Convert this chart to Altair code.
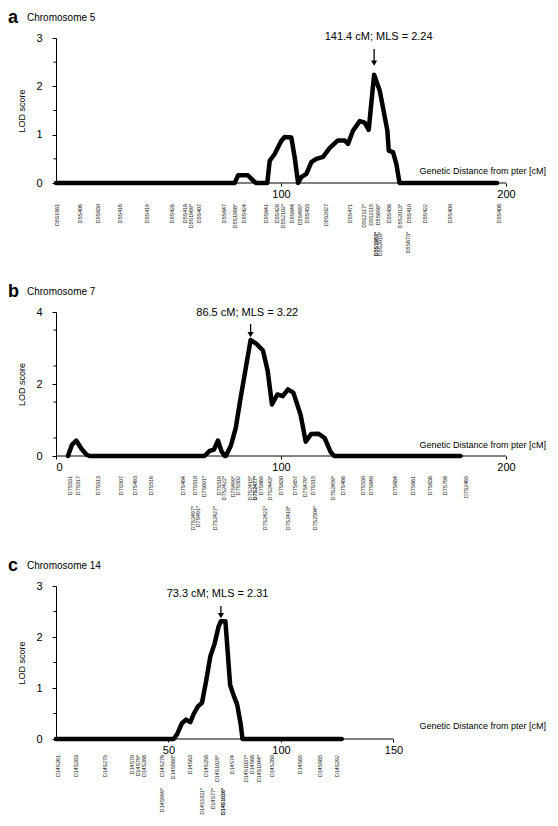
import altair as alt
import pandas as pd

FONT = "Liberation Sans"
W = 490
X_MAX = 217.8

# ---------------- Chromosome 5 ----------------
chr5_cm = [0, 79.4, 81, 85.3, 87.6, 88.9, 93.9, 95, 97.2, 100.1, 101.6, 104.6, 106.1, 107.6,
           109, 111.3, 113.5, 115.7, 118.7, 121.6, 125.3, 128.3, 129.8, 132, 135, 137.2, 139,
           141.4, 143.9, 145.3, 147.3, 147.9, 149.8, 151.3, 152.7, 196]
chr5_lod = [0, 0, 0.16, 0.16, 0.05, 0, 0, 0.46, 0.6, 0.87, 0.95, 0.94, 0.53, 0,
            0.12, 0.19, 0.43, 0.5, 0.54, 0.72, 0.88, 0.88, 0.81, 1.08, 1.28, 1.25, 1.1,
            2.24, 1.91, 1.57, 1.08, 0.67, 0.64, 0.39, 0, 0]
chr5_markers = ["D5S1981", "D5S406", "D5S630", "D5S416", "D5S419", "D5S426", "D5S418", "D5S1969*",
                "D5S407", "D5S647", "D5S1988*", "D5S424", "D5S641", "D5S428", "D5S2102*", "D5S644",
                "D5S495*", "D5S433", "D5S2027", "D5S471", "D5S2117*", "D5S2115", "D5S658*", "D5S436",
                "D5S2013*", "D5S410", "D5S422", "D5S400", "D5S408"]
chr5_marker_cm = [0.4, 10.7, 18.7, 28.4, 40.4, 51.6, 57.3, 60, 63.6, 74.7, 79.6, 83.6, 93.3, 98.2,
                  100.9, 104.9, 108.4, 111.6, 120, 130.7, 136.9, 140, 143.1, 148, 152.9, 156.9,
                  164, 175, 197]
chr5_markers2 = ["D5S1983*", "D5S2010*", "D5S673*"]
chr5_marker2_cm = [142.2, 144.2, 156.4]

# ---------------- Chromosome 7 ----------------
chr7_cm = [5.3, 7.1, 9, 11.3, 13.5, 15, 66, 68.3, 70.2, 72, 73.5, 75, 75.5, 77.8, 79.9, 81.8,
           84.9, 86.5, 89, 92, 94.1, 96, 98.4, 100.8, 103.1, 105.5, 108.7, 111, 113.4, 116.6,
           119.4, 122, 123.7, 179.8]
chr7_lod = [0, 0.31, 0.43, 0.2, 0.04, 0, 0, 0.14, 0.18, 0.43, 0.14, 0, 0, 0.3, 0.78, 1.52,
            2.64, 3.22, 3.12, 2.93, 2.36, 1.43, 1.71, 1.66, 1.85, 1.76, 1.15, 0.4, 0.61, 0.62,
            0.5, 0.12, 0, 0]
chr7_markers = ["D7S531", "D7S517", "D7S513", "D7S507", "D7S493", "D7S516", "D7S484", "D7S510",
                "D7S691*", "D7S519", "D7S2422*", "D7S499*", "D7S502", "D7S2415*", "D7S2477*",
                "D7S669", "D7S2443*", "D7S630", "D7S657", "D7S479*", "D7S515", "D7S2459*",
                "D7S486", "D7S530", "D7S640", "D7S684", "D7S661", "D7S636", "D7S798", "D7S2465"]
chr7_marker_cm = [6.2, 9.8, 18.7, 28.9, 35.1, 42.2, 56.4, 61.8, 65.8, 72.4, 74.7, 78.7, 80.9,
                  86.2, 88.4, 91.1, 95.1, 100, 106.2, 110.7, 114.2, 123.1, 127.6, 136.4, 140,
                  150.7, 158.7, 166.2, 172.9, 182.2]
chr7_markers2 = ["D7S2497*", "D7S491*", "D7S2427*", "D7S2421*", "D7S2410*", "D7S2504*"]
chr7_marker2_cm = [60.9, 63.1, 70.7, 92.9, 103.1, 115.1]

# ---------------- Chromosome 14 ----------------
chr14_cm = [0, 52.3, 53.8, 56, 57.8, 59.7, 61.2, 63.1, 64.9, 66.7, 68.6, 70.5, 72.3, 73.3, 75.3,
            77.4, 79, 80.5, 82.1, 82.9, 127]
chr14_lod = [0, 0, 0.09, 0.31, 0.38, 0.33, 0.49, 0.64, 0.71, 1.13, 1.62, 1.87, 2.21, 2.31, 2.31,
             1.06, 0.85, 0.68, 0.29, 0, 0]
chr14_markers = ["D14S261", "D14S283", "D14S275", "D14S70", "D14S79*", "D14S288", "D14S276",
                 "D14S980*", "D14S63", "D14S258", "D14S1029*", "D14S74", "D14S1037*", "D14S68",
                 "D14S1044*", "D14S280", "D14S65", "D14S985", "D14S292"]
chr14_marker_cm = [1, 9, 21.7, 33.6, 36.3, 38.9, 46.9, 51.8, 59.7, 66.8, 71.7, 78.3, 84.5, 87.2,
                   90.3, 96, 108.4, 117.3, 124.8]
chr14_markers2 = ["D14S999*", "D14S1011*", "D14S77*", "D14S1026*"]
chr14_marker2_cm = [47.3, 65, 69.9, 74.3]

bold_markers = ["D5S1983*", "D7S2477*", "D14S1026*"]


def panel(letter, title, cm, lod, m1, m1cm, m2, m2cm, y_max, height, axis_max, x_labels,
          peak_cm, text_cm, ann_text, ann_lod, arrow_top, arrow_head, xlabel_lod, row1, row2):
    xs = alt.Scale(domain=[0, X_MAX], nice=False, zero=False)
    ys = alt.Scale(domain=[0, y_max], nice=False)

    curve = pd.DataFrame({"cM": cm, "LOD": lod})
    line = alt.Chart(curve).mark_line(
        color="black", strokeWidth=4.5, strokeJoin="round", strokeCap="round"
    ).encode(
        x=alt.X("cM:Q", scale=xs, axis=alt.Axis(
            values=x_labels, domain=False, grid=False, tickSize=3, tickColor="black",
            labelFontSize=11, labelFont=FONT, labelColor="black", labelPadding=2, title=None)),
        y=alt.Y("LOD:Q", scale=ys, axis=alt.Axis(
            values=list(range(y_max + 1)), grid=False, domainColor="black", domainWidth=1,
            tickColor="black", tickSize=4, labelFontSize=11, labelFont=FONT,
            labelColor="black", labelPadding=10, title="LOD score", titleFontSize=9,
            titleFont=FONT, titleFontWeight="normal", titleColor="black", titlePadding=9)),
    )

    base = pd.DataFrame({"cM": [0], "cM2": [axis_max], "LOD": [0]})
    baseline = alt.Chart(base).mark_rule(color="black", strokeWidth=1).encode(
        x=alt.X("cM:Q", scale=xs), x2="cM2:Q", y=alt.Y("LOD:Q", scale=ys))

    minor = pd.DataFrame({"LOD": [i + 0.5 for i in range(y_max)]})
    minor_ticks = alt.Chart(minor).mark_rule(color="black", strokeWidth=1).encode(
        y=alt.Y("LOD:Q", scale=ys), x=alt.value(0), x2=alt.value(-2.5))

    arrow = pd.DataFrame({"cM": [peak_cm], "LOD": [arrow_top], "LOD2": [arrow_head]})
    shaft = alt.Chart(arrow).mark_rule(color="black", strokeWidth=1.3).encode(
        x=alt.X("cM:Q", scale=xs), y=alt.Y("LOD:Q", scale=ys), y2="LOD2:Q")
    head = alt.Chart(arrow).mark_point(shape="triangle-down", filled=True, size=38,
                                       color="black", opacity=1).encode(
        x=alt.X("cM:Q", scale=xs), y=alt.Y("LOD2:Q", scale=ys))

    ann = pd.DataFrame({"cM": [text_cm], "LOD": [ann_lod], "t": [ann_text]})
    ann_text_l = alt.Chart(ann).mark_text(fontSize=11, font=FONT, color="black",
                                          baseline="middle", align="center").encode(
        x=alt.X("cM:Q", scale=xs), y=alt.Y("LOD:Q", scale=ys), text="t:N")

    xl = pd.DataFrame({"cM": [X_MAX], "LOD": [xlabel_lod],
                       "t": ["Genetic Distance from pter [cM]"]})
    xlabel = alt.Chart(xl).mark_text(fontSize=9, font=FONT, color="black",
                                     baseline="middle", align="right").encode(
        x=alt.X("cM:Q", scale=xs), y=alt.Y("LOD:Q", scale=ys), text="t:N")

    def markers(names, cms, offset):
        df = pd.DataFrame({"marker": names, "cM": cms})
        layers = []
        for weight, keep in (("normal", False), ("bold", True)):
            sel = df[df["marker"].isin(bold_markers) == keep]
            if len(sel) == 0:
                continue
            layers.append(alt.Chart(sel).mark_text(
                angle=270, align="right", baseline="middle", fontSize=5.3, font=FONT,
                fontWeight=weight, color="#111").encode(
                x=alt.X("cM:Q", scale=xs), y=alt.value(offset), text="marker:N"))
        return layers

    hdr = pd.DataFrame({"l": [letter], "t": [title]})
    letter_l = alt.Chart(hdr).mark_text(fontSize=18, font=FONT, fontWeight="bold",
                                        align="left", baseline="alphabetic",
                                        color="black").encode(
        x=alt.value(-48), y=alt.value(-15), text="l:N")
    title_l = alt.Chart(hdr).mark_text(fontSize=10, font=FONT, align="left",
                                       baseline="alphabetic", color="black").encode(
        x=alt.value(-29), y=alt.value(-17), text="t:N")

    layers = [line, baseline, minor_ticks, shaft, head, ann_text_l, xlabel, letter_l, title_l]
    layers += markers(m1, m1cm, height + row1)
    layers += markers(m2, m2cm, height + row2)
    return alt.layer(*layers).properties(width=W, height=height)


pa = panel("a", "Chromosome 5", chr5_cm, chr5_lod, chr5_markers, chr5_marker_cm,
           chr5_markers2, chr5_marker2_cm, 3, 145, 200, [100, 200],
           141.4, 143.4, "141.4 cM; MLS = 2.24", 3.02, 2.77, 2.48, 0.25, 21, 49)
pb = panel("b", "Chromosome 7", chr7_cm, chr7_lod, chr7_markers, chr7_marker_cm,
           chr7_markers2, chr7_marker2_cm, 4, 144, 200, [0, 100, 200],
           86.5, 85.0, "86.5 cM; MLS = 3.22", 3.97, 3.67, 3.37, 0.3, 20, 50)
pc = panel("c", "Chromosome 14", chr14_cm, chr14_lod, chr14_markers, chr14_marker_cm,
           chr14_markers2, chr14_marker2_cm, 3, 153, 150, [50, 100, 150],
           73.3, 71.8, "73.3 cM; MLS = 2.31", 2.84, 2.61, 2.42, 0.26, 16, 49)

chart = alt.vconcat(pa, pb, pc, spacing=26).properties(
    padding={"left": 0, "top": 1, "right": 0, "bottom": 0}
).configure(font=FONT).configure_view(stroke=None)

chart.save("out.html", embed_options={"renderer": "svg", "actions": False})
